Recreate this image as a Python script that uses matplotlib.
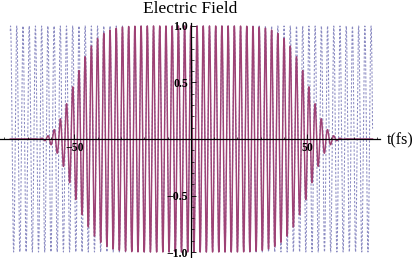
import numpy as np
import matplotlib
matplotlib.use("Agg")
import matplotlib.pyplot as plt
from matplotlib.ticker import FixedLocator, FuncFormatter

# --- chart values ---
title = "Electric Field"
x_label = "t(fs)"
t_range = [-77.5, 78.0]          # extent of the plotted curves (fs)
carrier_period = 2.668           # fs (800 nm light)
envelope_fwhm_half = 50.0        # |t| where envelope = 0.5
envelope_order = 8               # super-Gaussian order
x_major = [-50, 50]
x_minor = [-80, -70, -60, -40, -30, -20, -10, 10, 20, 30, 40, 60, 70, 80]
y_major = [-1.0, -0.5, 0.5, 1.0]
y_minor = [-0.9, -0.8, -0.7, -0.6, -0.4, -0.3, -0.2, -0.1,
           0.1, 0.2, 0.3, 0.4, 0.6, 0.7, 0.8, 0.9]

t = np.linspace(t_range[0], t_range[1], 24000)
omega = 2 * np.pi / carrier_period
carrier = np.cos(omega * t)
envelope = np.exp(-np.log(2) * np.abs(t / envelope_fwhm_half) ** envelope_order)
field = envelope * carrier

fig = plt.figure(figsize=(4.16, 2.58), dpi=100)
W, H = 416.0, 258.0
ax = fig.add_axes([0, 0, 380 / W, 1 - 22.7 / H])
ax.set_xlim(-81.9, 81.2)
ax.set_ylim(-1.053, 1.029)

ax.plot(t, carrier, color=(0.24, 0.24, 0.6), alpha=0.6, lw=0.75,
        linestyle=(0, (2.2, 1.6)), zorder=2)
ax.plot(t, field, color=(0.62, 0.26, 0.46), lw=1.05, zorder=3)

for s in ("top", "right"):
    ax.spines[s].set_visible(False)
ax.spines["left"].set_position(("data", 0))
ax.spines["bottom"].set_position(("data", 0))
for s in ("left", "bottom"):
    ax.spines[s].set_linewidth(0.9)
    ax.spines[s].set_zorder(4)
ax.xaxis.set_zorder(5)
ax.yaxis.set_zorder(5)

ax.xaxis.set_major_locator(FixedLocator(x_major))
ax.xaxis.set_minor_locator(FixedLocator(x_minor))
ax.yaxis.set_major_locator(FixedLocator(y_major))
ax.yaxis.set_minor_locator(FixedLocator(y_minor))

fmt_x = FuncFormatter(lambda v, p: f"{int(v)}".replace("-", "\u2212"))
fmt_y = FuncFormatter(lambda v, p: f"{v:.1f}".replace("-", "\u2212"))
ax.xaxis.set_major_formatter(fmt_x)
ax.yaxis.set_major_formatter(fmt_y)

ax.tick_params(which="major", direction="in", length=3.5, width=0.6, pad=2.0)
ax.tick_params(which="minor", direction="in", length=1.8, width=0.5)
for lab in ax.get_xticklabels() + ax.get_yticklabels():
    lab.set_fontfamily("Liberation Serif")
    lab.set_fontweight("bold")
    lab.set_fontsize(8.5)

fig.text(190.5 / W, 1 - 8.5 / H, title, ha="center", va="center",
         fontsize=12.5, family="Liberation Serif")
fig.text(387 / W, 1 - 140 / H, x_label, ha="left", va="center",
         fontsize=11.5, family="Liberation Serif")

fig.savefig("out.png", dpi=100)
